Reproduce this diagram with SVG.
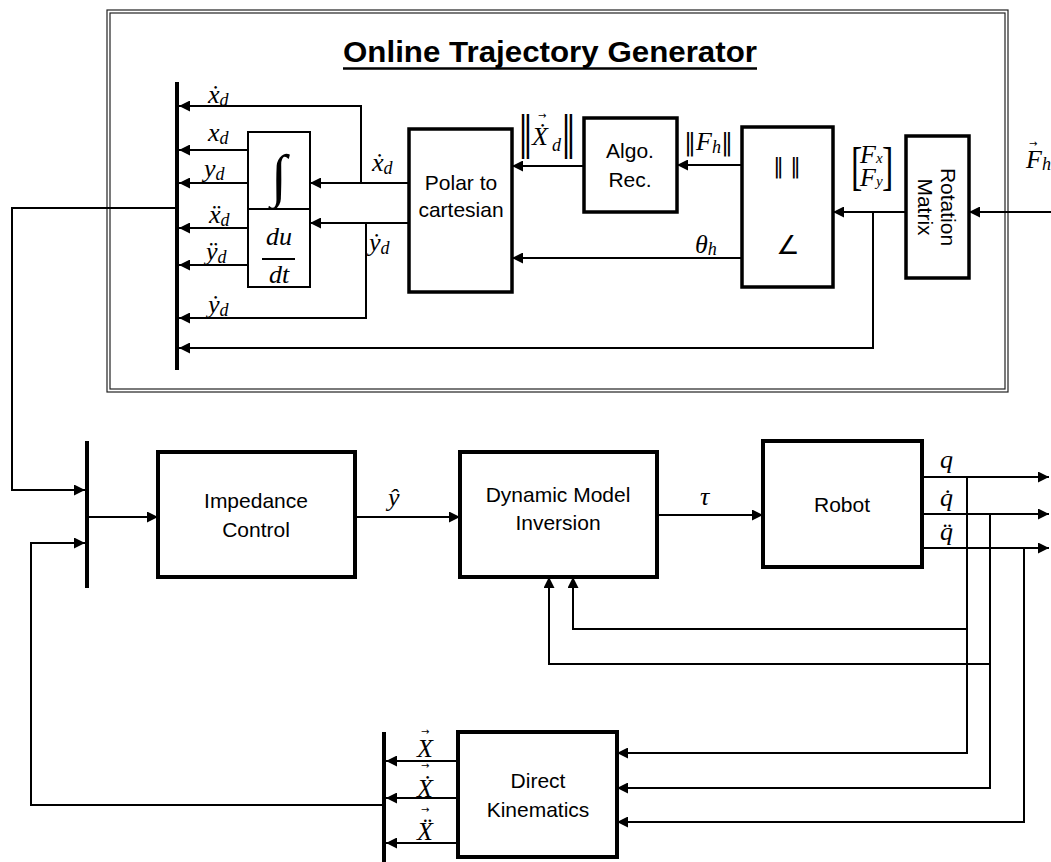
<svg xmlns="http://www.w3.org/2000/svg" width="1051" height="862" viewBox="0 0 1051 862">
<defs>
<marker id="ah" markerUnits="userSpaceOnUse" markerWidth="12" markerHeight="11" refX="11" refY="5.5" orient="auto"><path d="M0,0 L11,5.5 L0,11 z" fill="#000"/></marker>
</defs>
<style>
.blk{fill:#fff;stroke:#000;stroke-width:3.5}
.blk4{fill:#fff;stroke:#000;stroke-width:4}
.blk2{fill:#fff;stroke:#000;stroke-width:2}
.w{fill:none;stroke:#000;stroke-width:2}
.a{marker-end:url(#ah)}
.bus{stroke:#000;stroke-width:4}
.t{font-family:"Liberation Sans",Arial,sans-serif;font-size:21px;text-anchor:middle;fill:#000}
.m{font-family:"Liberation Serif","DejaVu Serif",serif;font-style:italic;font-size:26px;fill:#000}
.u{font-family:"Liberation Serif","DejaVu Serif",serif;fill:#000}
.s{font-size:18px}
.vec{font-family:"DejaVu Sans",sans-serif;font-size:10px;fill:#000}
.frame{fill:none;stroke:#222;stroke-width:1.2}
</style>
<rect width="1051" height="862" fill="#fff"/>

<g id="otg-frame">
<rect class="frame" x="107" y="10" width="901" height="382"/>
<rect class="frame" x="110" y="13" width="895" height="376"/>
<text x="550" y="62" font-family="Liberation Sans,Arial,sans-serif" font-weight="bold" font-size="29" text-anchor="middle" textLength="414" lengthAdjust="spacingAndGlyphs">Online Trajectory Generator</text>
<line x1="343" y1="68.5" x2="757" y2="68.5" stroke="#000" stroke-width="2.5"/>
</g>

<g id="connectors">
<polyline class="w a" points="409,183 310,183"/>
<polyline class="w a" points="361,183 361,106 179,106"/>
<polyline class="w a" points="409,223 310,223"/>
<polyline class="w a" points="366,223 366,318 179,318"/>
<polyline class="w a" points="248,150 179,150"/>
<polyline class="w a" points="248,183 179,183"/>
<polyline class="w a" points="248,228 179,228"/>
<polyline class="w a" points="248,265 179,265"/>
<polyline class="w a" points="584,166 512,166"/>
<polyline class="w a" points="742,165 677,165"/>
<polyline class="w a" points="742,258 512,258"/>
<polyline class="w a" points="906,212 833,212"/>
<polyline class="w a" points="873,212 873,348 179,348"/>
<polyline class="w a" points="1051,212 969,212"/>
<polyline class="w a" points="175,208 12,208 12,490 85,490"/>
<polyline class="w a" points="382,805 31,805 31,543 85,543"/>
<polyline class="w a" points="89,517 158,517"/>
<polyline class="w a" points="355,517 460,517"/>
<polyline class="w a" points="657,515 763,515"/>
<polyline class="w a" points="922,477 1049,477"/>
<polyline class="w a" points="922,514 1049,514"/>
<polyline class="w a" points="922,548 1049,548"/>
<polyline class="w a" points="967,477 967,753 617,753"/>
<polyline class="w a" points="967,629 573,629 573,577"/>
<polyline class="w a" points="990,514 990,788 617,788"/>
<polyline class="w a" points="990,664 549,664 549,577"/>
<polyline class="w a" points="1024,548 1024,822 617,822"/>
<polyline class="w a" points="458,761 386,761"/>
<polyline class="w a" points="458,798 386,798"/>
<polyline class="w a" points="458,843 386,843"/>
</g>

<g id="labels">
<text class="m" x="208" y="103">ẋ<tspan class="s" dy="3">d</tspan></text>
<text class="m" x="208" y="141">x<tspan class="s" dy="3">d</tspan></text>
<text class="m" x="204" y="177">y<tspan class="s" dy="3">d</tspan></text>
<text class="m" x="209" y="223">ẍ<tspan class="s" dy="3">d</tspan></text>
<text class="m" x="206" y="260">ÿ<tspan class="s" dy="3">d</tspan></text>
<text class="m" x="208" y="313">ẏ<tspan class="s" dy="3">d</tspan></text>
<text class="m" x="372" y="171">ẋ<tspan class="s" dy="3">d</tspan></text>
<text class="m" x="369" y="251">ẏ<tspan class="s" dy="3">d</tspan></text>
<text font-family="DejaVu Serif,serif" transform="translate(518,148) scale(1,1.5)" font-size="30">‖</text>
<text class="vec" x="538" y="119">→</text>
<text class="m" x="532" y="145" font-size="24">Ẋ</text>
<text class="m s" x="552" y="151">d</text>
<text font-family="DejaVu Serif,serif" transform="translate(561,148) scale(1,1.5)" font-size="30">‖</text>
<text class="u" x="684" y="150" font-size="26"><tspan font-family="DejaVu Serif,serif" font-size="24">‖</tspan><tspan font-style="italic">F</tspan><tspan font-style="italic" font-size="18" dy="3">h</tspan><tspan dy="-3" font-family="DejaVu Serif,serif" font-size="24">‖</tspan></text>
<text class="m" x="695" y="253">θ<tspan class="s" dy="2">h</tspan></text>
<text class="u" transform="translate(851,184) scale(1,1.55)" font-size="34">[</text>
<text class="u" transform="translate(882,184) scale(1,1.55)" font-size="34">]</text>
<text class="m" x="860" y="163" font-size="24">F<tspan font-size="15">x</tspan></text>
<text class="m" x="860" y="186" font-size="24">F<tspan font-size="15">y</tspan></text>
<text class="vec" x="1029" y="147">→</text>
<text class="m" x="1026" y="168" font-size="24">F<tspan class="s" dy="2">h</tspan></text>
<text class="m" x="388" y="506">ŷ</text>
<text class="m" x="700" y="505">τ</text>
<text class="m" x="940" y="468">q</text>
<text class="m" x="940" y="506">q̇</text>
<text class="m" x="940" y="540">q̈</text>
<text class="vec" x="421" y="735">→</text>
<text class="m" x="417" y="757" font-size="24">X</text>
<text class="vec" x="421" y="769">→</text>
<text class="m" x="417" y="797" font-size="24">Ẋ</text>
<text class="vec" x="421" y="813">→</text>
<text class="m" x="417" y="840" font-size="24">Ẍ</text>
</g>

<g id="bus-top"><line class="bus" x1="177" y1="82" x2="177" y2="370"/></g>
<g id="bus-in"><line class="bus" x1="87" y1="441" x2="87" y2="588"/></g>
<g id="bus-dk"><line class="bus" x1="384" y1="732" x2="384" y2="862"/></g>

<g id="integrator">
<rect class="blk2" x="248" y="132" width="62" height="77"/>
<text class="u" x="279" y="195" font-size="58" text-anchor="middle">∫</text>
</g>
<g id="derivative">
<rect class="blk2" x="248" y="209" width="62" height="78"/>
<text class="m" x="279" y="245" text-anchor="middle">du</text>
<line x1="262" y1="259" x2="295" y2="259" stroke="#000" stroke-width="2"/>
<text class="m" x="279" y="283" text-anchor="middle">dt</text>
</g>
<g id="polar">
<rect class="blk" x="409" y="129" width="103" height="163"/>
<text class="t" x="461" y="190">Polar to</text>
<text class="t" x="461" y="217">cartesian</text>
</g>
<g id="algo">
<rect class="blk" x="584" y="118" width="93" height="94"/>
<text class="t" x="630" y="158">Algo.</text>
<text class="t" x="630" y="187">Rec.</text>
</g>
<g id="norm-angle">
<rect class="blk" x="742" y="127" width="91" height="160"/>
<text x="787" y="173" font-family="DejaVu Sans,sans-serif" font-size="21" text-anchor="middle">‖ ‖</text>
<text x="788" y="254" font-family="DejaVu Sans,sans-serif" font-size="26" text-anchor="middle">∠</text>
</g>
<g id="rotation">
<rect class="blk" x="906" y="136" width="63" height="142"/>
<text class="t" transform="translate(941,207) rotate(90)">Rotation</text>
<text class="t" transform="translate(918,207) rotate(90)">Matrix</text>
</g>
<g id="impedance">
<rect class="blk4" x="158" y="452" width="197" height="125"/>
<text class="t" x="256" y="508">Impedance</text>
<text class="t" x="256" y="537">Control</text>
</g>
<g id="dmi">
<rect class="blk4" x="460" y="452" width="197" height="125"/>
<text class="t" x="558" y="502">Dynamic Model</text>
<text class="t" x="558" y="530">Inversion</text>
</g>
<g id="robot">
<rect class="blk4" x="763" y="441" width="159" height="126"/>
<text class="t" x="842" y="512">Robot</text>
</g>
<g id="dk">
<rect class="blk4" x="458" y="732" width="159" height="125"/>
<text class="t" x="538" y="788">Direct</text>
<text class="t" x="538" y="817">Kinematics</text>
</g>
</svg>
